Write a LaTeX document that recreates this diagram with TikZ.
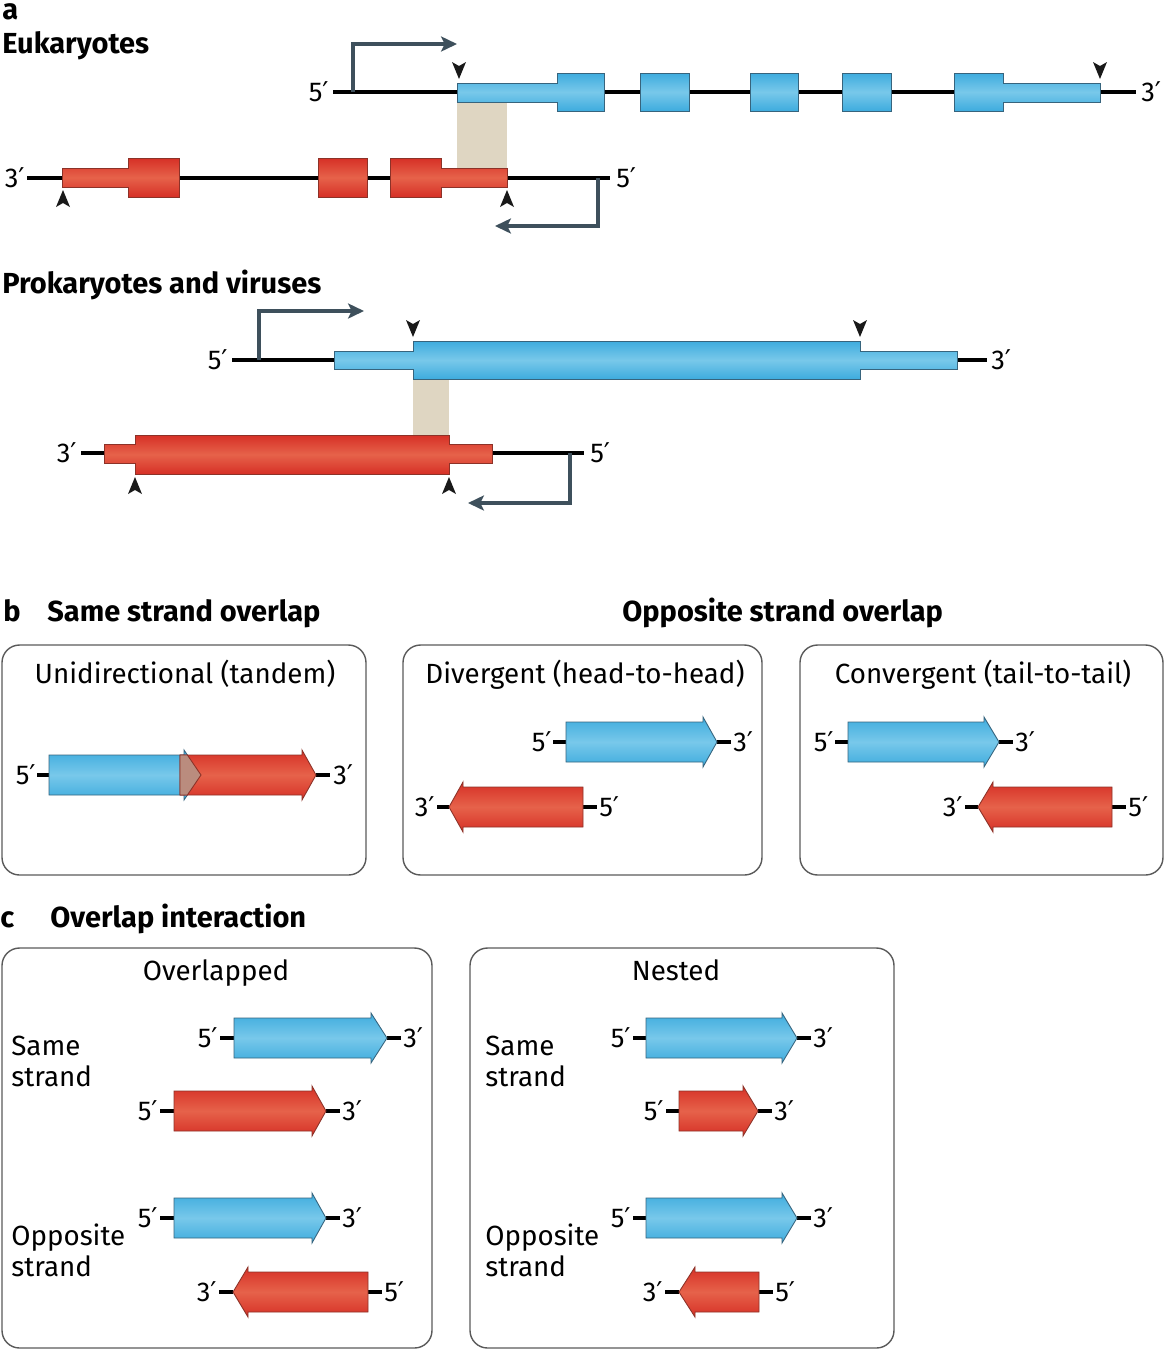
\documentclass[tikz,border=0pt]{standalone}
\usepackage{fontspec}
\setmainfont{Fira Sans}
\newfontfamily\primefont{DejaVu Sans}
\usetikzlibrary{arrows.meta}

\newcommand{\prm}{{\primefont ′}}

\definecolor{blueedge}{RGB}{62,172,222}
\definecolor{bluemid}{RGB}{120,200,234}
\definecolor{blueline}{RGB}{55,100,125}
\definecolor{rededge}{RGB}{214,48,38}
\definecolor{redmid}{RGB}{230,98,74}
\definecolor{redline}{RGB}{140,50,40}
\definecolor{beige}{RGB}{223,214,194}
\definecolor{brownish}{RGB}{186,140,126}
\definecolor{promoter}{RGB}{62,80,92}
\definecolor{boxline}{RGB}{90,90,90}

\begin{document}
\begin{tikzpicture}[x=0.02cm,y=-0.02cm,
  head/.style={font=\fontsize{16.5}{19}\selectfont\bfseries,anchor=base west,inner sep=0},
  lbl/.style={font=\fontsize{15.5}{18}\selectfont,inner sep=0},
  title/.style={font=\fontsize{15.8}{18}\selectfont,anchor=base,inner sep=0},
  rowlbl/.style={font=\fontsize{15.8}{17.6}\selectfont,align=left,anchor=west,inner sep=0},
  bluegene/.style={draw=blueline,line width=0.5pt,top color=blueedge,bottom color=blueedge,middle color=bluemid},
  redgene/.style={draw=redline,line width=0.5pt,top color=rededge,bottom color=rededge,middle color=redmid},
  strand/.style={line width=2pt},
  stub/.style={line width=2.2pt},
  promo/.style={draw=promoter,line width=1.8pt,-{Stealth[length=9pt,width=8.5pt,inset=2pt]}},
  tick/.style={fill=black!90},
  overlap/.style={fill=beige},
  panel/.style={draw=boxline,line width=0.8pt,rounded corners=10pt}]
 \useasboundingbox (0,0) rectangle (1165,1350);
 \node[head] (a) at (2,19) {a};
 \node[head] (euk) at (2,53) {Eukaryotes};
 \fill[overlap] (457,102) rectangle (507,168);
 \draw[strand] (333,92) -- (1136,92);
 \node[lbl,anchor=east] (euk5) at (329,92) {5\prm};
 \node[lbl,anchor=west] (euk3) at (1141,92) {3\prm};
 \draw[promo] (353,92) |- (457,44);
 \draw[bluegene] (457,83)--(557,83)--(557,73)--(604,73)--(604,111)--(557,111)--(557,102)--(457,102)--cycle;
 \draw[bluegene] (640,73) rectangle (689,111);
 \draw[bluegene] (750,73) rectangle (798,111);
 \draw[bluegene] (842,73) rectangle (891,111);
 \draw[bluegene] (954,73)--(1003,73)--(1003,83)--(1100,83)--(1100,102)--(1003,102)--(1003,111)--(954,111)--cycle;
 \fill[tick] (459,79)--(452,62)--(459,66)--(466,62)--cycle;
 \fill[tick] (1100,79)--(1093,62)--(1100,66)--(1107,62)--cycle;
 \draw[strand] (27,178) -- (610,178);
 \node[lbl,anchor=east] (eukr3) at (25,178) {3\prm};
 \node[lbl,anchor=west] (eukr5) at (616,178) {5\prm};
 \draw[promo] (598,178) |- (495,226);
 \draw[redgene] (62,168)--(128,168)--(128,158)--(179,158)--(179,197)--(128,197)--(128,187)--(62,187)--cycle;
 \draw[redgene] (318,158) rectangle (367,197);
 \draw[redgene] (390,158)--(441,158)--(441,168)--(507,168)--(507,187)--(441,187)--(441,197)--(390,197)--cycle;
 \fill[tick] (63,190)--(56,207)--(63,203)--(70,207)--cycle;
 \fill[tick] (507,190)--(500,207)--(507,203)--(514,207)--cycle;

 \node[head] (prok) at (2,293) {Prokaryotes and viruses};
 \fill[overlap] (413,379) rectangle (449,435);
 \draw[strand] (232,360) -- (987,360);
 \node[lbl,anchor=east] (prok5) at (228,360) {5\prm};
 \node[lbl,anchor=west] (prok3) at (991,360) {3\prm};
 \draw[promo] (259,360) |- (364,311);
 \draw[bluegene] (334,351)--(413,351)--(413,341)--(860,341)--(860,351)--(957,351)--(957,369)--(860,369)--(860,379)--(413,379)--(413,369)--(334,369)--cycle;
 \fill[tick] (413,337)--(406,320)--(413,324)--(420,320)--cycle;
 \fill[tick] (860,337)--(853,320)--(860,324)--(867,320)--cycle;
 \draw[strand] (81,453) -- (584,453);
 \node[lbl,anchor=east] (prokr3) at (77,453) {3\prm};
 \node[lbl,anchor=west] (prokr5) at (590,453) {5\prm};
 \draw[promo] (570,453) |- (468,503);
 \draw[redgene] (104,444)--(135,444)--(135,435)--(449,435)--(449,444)--(492,444)--(492,463)--(449,463)--(449,474)--(135,474)--(135,463)--(104,463)--cycle;
 \fill[tick] (135,477)--(128,494)--(135,490)--(142,494)--cycle;
 \fill[tick] (449,477)--(442,494)--(449,490)--(456,494)--cycle;

 \node[head] (b) at (3,621) {b};
 \node[head] (same) at (47,621) {Same strand overlap};
 \node[head] (opp) at (622,621) {Opposite strand overlap};
 \draw[panel] (2,645) rectangle (366,875);
 \draw[panel] (403,645) rectangle (762,875);
 \draw[panel] (800,645) rectangle (1163,875);
 \node[title] (uni) at (185,683) {Unidirectional (tandem)};
 \node[title] (div) at (585,683) {Divergent (head-to-head)};
 \node[title] (conv) at (983,683) {Convergent (tail-to-tail)};

 \draw[stub] (37,775) -- (49,775);
 \draw[stub] (316,775) -- (330,775);
 \node[lbl,anchor=east] (uni5) at (36,775) {5\prm};
 \node[lbl,anchor=west] (uni3) at (333,775) {3\prm};
 \draw[bluegene] (49,755)--(184,755)--(184,750)--(201,775)--(184,800)--(184,795)--(49,795)--cycle;
 \draw[redgene] (180,755)--(302,755)--(302,750)--(316,775)--(302,800)--(302,795)--(180,795)--cycle;
 \draw[draw=redline,line width=0.5pt,fill=brownish] (180,755)--(187.4,755)--(201,775)--(187.4,795)--(180,795)--cycle;

 \draw[stub] (553,742) -- (566,742);
 \draw[stub] (717,742) -- (731,742);
 \node[lbl,anchor=east] (div5) at (552,742) {5\prm};
 \node[lbl,anchor=west] (div3) at (733,742) {3\prm};
 \draw[bluegene] (566,722)--(703,722)--(703,717)--(717,742)--(703,767)--(703,762)--(566,762)--cycle;
 \draw[stub] (437,807) -- (449,807);
 \draw[stub] (583,807) -- (597,807);
 \node[lbl,anchor=east] (divr3) at (435,807) {3\prm};
 \node[lbl,anchor=west] (divr5) at (599,807) {5\prm};
 \draw[redgene] (583,787)--(463,787)--(463,782)--(449,807)--(463,832)--(463,827)--(583,827)--cycle;

 \draw[stub] (835,742) -- (848,742);
 \draw[stub] (999,742) -- (1013,742);
 \node[lbl,anchor=east] (conv5) at (834,742) {5\prm};
 \node[lbl,anchor=west] (conv3) at (1015,742) {3\prm};
 \draw[bluegene] (848,722)--(984,722)--(984,717)--(999,742)--(984,767)--(984,762)--(848,762)--cycle;
 \draw[stub] (965,807) -- (978,807);
 \draw[stub] (1112,807) -- (1126,807);
 \node[lbl,anchor=east] (convr3) at (963,807) {3\prm};
 \node[lbl,anchor=west] (convr5) at (1128,807) {5\prm};
 \draw[redgene] (1112,787)--(993,787)--(993,782)--(978,807)--(993,832)--(993,827)--(1112,827)--cycle;

 \node[head] (c) at (0,927) {c};
 \node[head] (inter) at (50,927) {Overlap interaction};
 \draw[panel] (2,948) rectangle (432,1348);
 \draw[panel] (470,948) rectangle (894,1348);
 \node[title] (ovl) at (216,980) {Overlapped};
 \node[title] (nest) at (676,980) {Nested};
 \node[rowlbl] (ovlsame) at (11,1061) {Same\\strand};
 \node[rowlbl] (ovlopp) at (11,1250) {Opposite\\strand};
 \node[rowlbl] (nestsame) at (485,1061) {Same\\strand};
 \node[rowlbl] (nestopp) at (485,1250) {Opposite\\strand};

 \draw[stub] (220,1038) -- (234,1038);
 \draw[stub] (387,1038) -- (401,1038);
 \node[lbl,anchor=east] (o1a) at (218,1038) {5\prm};
 \node[lbl,anchor=west] (o1b) at (403,1038) {3\prm};
 \draw[bluegene] (234,1018)--(371,1018)--(371,1013)--(387,1038)--(371,1063)--(371,1058)--(234,1058)--cycle;
 \draw[stub] (160,1111) -- (174,1111);
 \draw[stub] (326,1111) -- (340,1111);
 \node[lbl,anchor=east] (o2a) at (158,1111) {5\prm};
 \node[lbl,anchor=west] (o2b) at (342,1111) {3\prm};
 \draw[redgene] (174,1091)--(312,1091)--(312,1086)--(326,1111)--(312,1136)--(312,1131)--(174,1131)--cycle;
 \draw[stub] (160,1218) -- (174,1218);
 \draw[stub] (326,1218) -- (340,1218);
 \node[lbl,anchor=east] (o3a) at (158,1218) {5\prm};
 \node[lbl,anchor=west] (o3b) at (342,1218) {3\prm};
 \draw[bluegene] (174,1198)--(312,1198)--(312,1193)--(326,1218)--(312,1243)--(312,1238)--(174,1238)--cycle;
 \draw[stub] (219,1292) -- (233,1292);
 \draw[stub] (368,1292) -- (382,1292);
 \node[lbl,anchor=east] (o4a) at (217,1292) {3\prm};
 \node[lbl,anchor=west] (o4b) at (384,1292) {5\prm};
 \draw[redgene] (368,1272)--(248,1272)--(248,1267)--(233,1292)--(248,1317)--(248,1312)--(368,1312)--cycle;

 \draw[stub] (633,1038) -- (646,1038);
 \draw[stub] (797,1038) -- (811,1038);
 \node[lbl,anchor=east] (n1a) at (631,1038) {5\prm};
 \node[lbl,anchor=west] (n1b) at (813,1038) {3\prm};
 \draw[bluegene] (646,1018)--(782,1018)--(782,1013)--(797,1038)--(782,1063)--(782,1058)--(646,1058)--cycle;
 \draw[stub] (666,1111) -- (679,1111);
 \draw[stub] (758,1111) -- (772,1111);
 \node[lbl,anchor=east] (n2a) at (664,1111) {5\prm};
 \node[lbl,anchor=west] (n2b) at (774,1111) {3\prm};
 \draw[redgene] (679,1091)--(743,1091)--(743,1086)--(758,1111)--(743,1136)--(743,1131)--(679,1131)--cycle;
 \draw[stub] (633,1218) -- (646,1218);
 \draw[stub] (797,1218) -- (811,1218);
 \node[lbl,anchor=east] (n3a) at (631,1218) {5\prm};
 \node[lbl,anchor=west] (n3b) at (813,1218) {3\prm};
 \draw[bluegene] (646,1198)--(782,1198)--(782,1193)--(797,1218)--(782,1243)--(782,1238)--(646,1238)--cycle;
 \draw[stub] (665,1292) -- (679,1292);
 \draw[stub] (759,1292) -- (773,1292);
 \node[lbl,anchor=east] (n4a) at (663,1292) {3\prm};
 \node[lbl,anchor=west] (n4b) at (775,1292) {5\prm};
 \draw[redgene] (759,1272)--(695,1272)--(695,1267)--(679,1292)--(695,1317)--(695,1312)--(759,1312)--cycle;
\end{tikzpicture}
\end{document}
